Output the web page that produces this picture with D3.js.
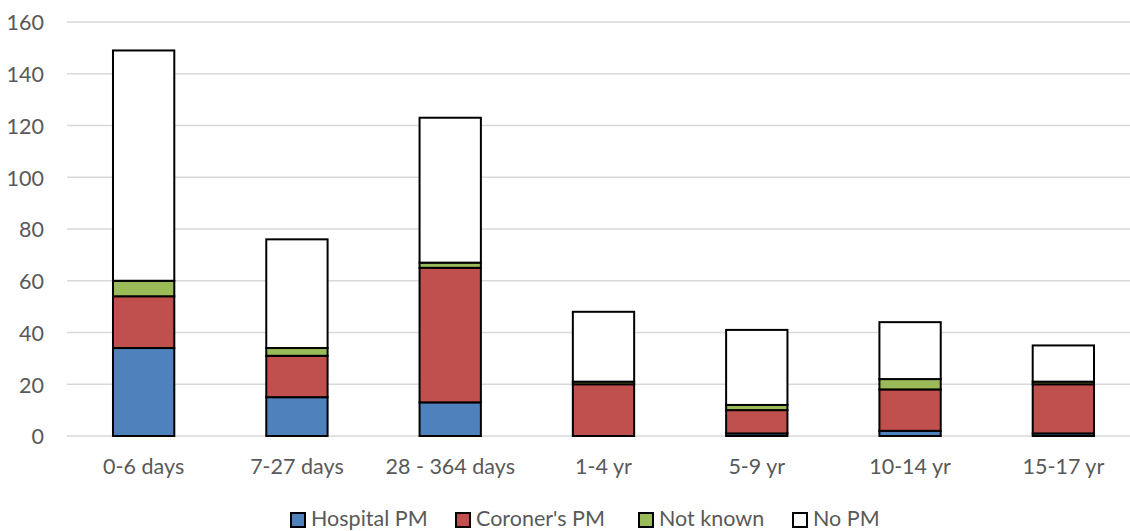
<!DOCTYPE html>
<html>
<head>
<meta charset="utf-8">
<script src="https://cdn.jsdelivr.net/npm/d3@7"></script>
<style>
  html, body { margin: 0; padding: 0; background: #fff; }
  svg { display: block; font-family: Lato, "Open Sans", sans-serif; }
</style>
</head>
<body>
<svg id="chart" width="1130" height="531"></svg>
<script>
// Age groups along the x axis
const categories = ["0-6 days", "7-27 days", "28 - 364 days", "1-4 yr", "5-9 yr", "10-14 yr", "15-17 yr"];

// Counts per post-mortem status, one value per age group
const hospitalPM = [34, 15, 13, 0, 1, 2, 1];
const coronersPM = [20, 16, 52, 20, 9, 16, 19];
const notKnown   = [6, 3, 2, 1, 2, 4, 1];
const noPM       = [89, 42, 56, 27, 29, 22, 14];

const seriesNames = ["Hospital PM", "Coroner's PM", "Not known", "No PM"];
const seriesColors = ["#4f81bd", "#c0504d", "#9bbb59", "#ffffff"];
const yTicks = [0, 20, 40, 60, 80, 100, 120, 140, 160];

const seriesValues = [hospitalPM, coronersPM, notKnown, noPM];
const rows = categories.map((c, i) => {
  const r = { category: c };
  seriesNames.forEach((s, k) => { r[s] = seriesValues[k][i]; });
  return r;
});

const svg = d3.select("#chart");
const W = 1130, H = 531;
const plotLeft = 67, plotRight = 1140, plotTop = 22, plotBottom = 436;

const x = d3.scaleBand()
  .domain(categories)
  .range([plotLeft, plotRight])
  .paddingInner(0.6)
  .paddingOuter(0.3);

const y = d3.scaleLinear()
  .domain([0, 160])
  .range([plotBottom, plotTop]);

// Horizontal gridlines
svg.append("g")
  .selectAll("line")
  .data(yTicks)
  .join("line")
  .attr("x1", plotLeft)
  .attr("x2", W)
  .attr("y1", d => y(d))
  .attr("y2", d => y(d))
  .attr("stroke", "#d9d9d9")
  .attr("stroke-width", 1.5);

// Y axis labels
const yAxis = d3.axisLeft(y).tickValues(yTicks).tickSize(0).tickPadding(0);
const gy = svg.append("g")
  .attr("transform", `translate(${plotLeft - 23},0)`)
  .call(yAxis);
gy.select(".domain").remove();
gy.selectAll("text")
  .attr("font-family", "Lato, 'Open Sans', sans-serif")
  .attr("font-size", 21.5)
  .attr("fill", "#595959")
  .attr("dy", "0.36em");

// X axis labels
const xAxis = d3.axisBottom(x).tickSize(0).tickPadding(0);
const gx = svg.append("g")
  .attr("transform", `translate(0,${y(0) + 38})`)
  .call(xAxis);
gx.select(".domain").remove();
gx.selectAll("text")
  .attr("font-family", "Lato, 'Open Sans', sans-serif")
  .attr("font-size", 21.5)
  .attr("fill", "#595959")
  .attr("dy", "0");

// Stacked bars
const stacked = d3.stack().keys(seriesNames)(rows);
const color = d3.scaleOrdinal().domain(seriesNames).range(seriesColors);

svg.append("g")
  .selectAll("g")
  .data(stacked)
  .join("g")
  .attr("fill", d => color(d.key))
  .selectAll("rect")
  .data(d => d.filter(p => p[1] - p[0] > 0))
  .join("rect")
  .attr("x", d => x(d.data.category))
  .attr("width", x.bandwidth())
  .attr("y", d => y(d[1]))
  .attr("height", d => y(d[0]) - y(d[1]))
  .attr("stroke", "#000")
  .attr("stroke-width", 2);

// Legend along the bottom edge
const legendX = [291, 456, 639, 793];
const legend = svg.append("g")
  .selectAll("g")
  .data(seriesNames)
  .join("g")
  .attr("transform", (d, i) => `translate(${legendX[i]},${526})`);
legend.append("rect")
  .attr("x", 0)
  .attr("y", -13)
  .attr("width", 14)
  .attr("height", 14)
  .attr("fill", d => color(d))
  .attr("stroke", "#000")
  .attr("stroke-width", 2);
legend.append("text")
  .attr("x", 20)
  .attr("y", 0)
  .attr("font-size", 21.5)
  .attr("fill", "#595959")
  .text(d => d);
</script>
</body>
</html>
